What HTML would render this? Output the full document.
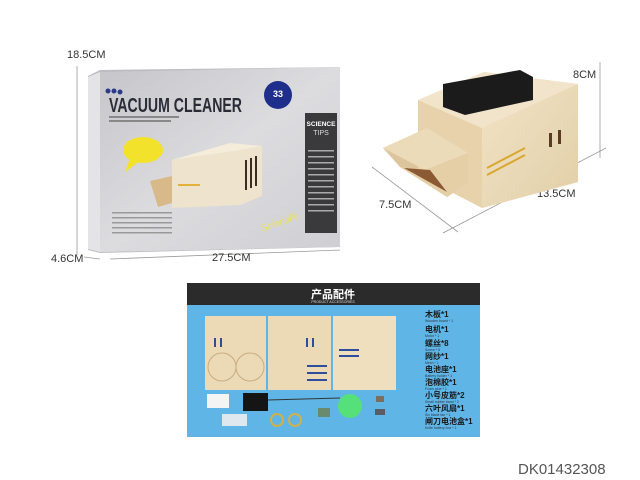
<!DOCTYPE html>
<html><head><meta charset="utf-8"><style>
html,body{margin:0;padding:0;background:#fff;}
svg{display:block;}
text{font-family:"Liberation Sans","Noto Sans CJK SC",sans-serif;}
</style></head><body>
<svg width="640" height="480" viewBox="0 0 640 480" xmlns="http://www.w3.org/2000/svg">
<defs>
<linearGradient id="bx" x1="0" y1="0" x2="1" y2="1"><stop offset="0" stop-color="#c6c6ca"/><stop offset="0.5" stop-color="#dcdcdf"/><stop offset="1" stop-color="#cfcfd3"/></linearGradient>
<linearGradient id="wd" x1="0" y1="0" x2="1" y2="1"><stop offset="0" stop-color="#f1e3c6"/><stop offset="1" stop-color="#e2cfa8"/></linearGradient>
</defs>
<rect width="640" height="480" fill="#fff"/>
<!-- dimension lines left -->
<g stroke="#999" stroke-width="0.8" fill="none">
<line x1="77" y1="66" x2="77" y2="255"/>
<line x1="84" y1="257" x2="100" y2="259"/>
<line x1="110" y1="259" x2="340" y2="250"/>
<line x1="372" y1="167" x2="458" y2="232"/>
<line x1="443" y1="233" x2="606" y2="148"/>
<line x1="600" y1="62" x2="600" y2="158"/>
</g>
<g font-size="11" fill="#333">
<text x="67" y="58">18.5CM</text>
<text x="51" y="262">4.6CM</text>
<text x="212" y="261">27.5CM</text>
<text x="379" y="208">7.5CM</text>
<text x="537" y="197">13.5CM</text>
<text x="573" y="78">8CM</text>
</g>
<!-- box -->
<polygon points="88,76 100,70 340,67 340,247 100,253 88,250" fill="#bdbdc1"/>
<polygon points="100,72 340,67 340,247 100,252" fill="url(#bx)"/>
<polygon points="88,77 100,72 100,252 88,249" fill="#e4e4e6"/>
<text x="109" y="112" font-size="20" font-weight="bold" fill="#2b2b38" textLength="133" lengthAdjust="spacingAndGlyphs">VACUUM CLEANER</text>
<circle cx="108" cy="91" r="2.5" fill="#2d3a8a"/><circle cx="114" cy="91" r="2.5" fill="#2d3a8a"/><circle cx="120" cy="92" r="2.5" fill="#2d3a8a"/>
<rect x="109" y="116" width="70" height="2" fill="#888"/><rect x="109" y="120" width="62" height="2" fill="#888"/>
<circle cx="278" cy="95" r="14" fill="#1f2e8a"/>
<text x="278" y="97" font-size="9" font-weight="bold" fill="#fff" text-anchor="middle">33</text>
<rect x="305" y="113" width="32" height="120" fill="#3a3a3c"/>
<text x="321" y="126" font-size="6.5" fill="#fff" text-anchor="middle" font-weight="bold">SCIENCE</text>
<text x="321" y="135" font-size="7" fill="#ddd" text-anchor="middle">TIPS</text>
<g fill="#aaa"><rect x="308" y="150" width="26" height="1.5"/><rect x="308" y="156" width="26" height="1.5"/><rect x="308" y="162" width="26" height="1.5"/><rect x="308" y="168" width="26" height="1.5"/><rect x="308" y="174" width="26" height="1.5"/><rect x="308" y="180" width="26" height="1.5"/><rect x="308" y="186" width="26" height="1.5"/><rect x="308" y="192" width="26" height="1.5"/><rect x="308" y="198" width="26" height="1.5"/><rect x="308" y="204" width="26" height="1.5"/><rect x="308" y="210" width="26" height="1.5"/></g>
<ellipse cx="143" cy="150" rx="20" ry="13" fill="#f3e22c"/>
<polygon points="130,158 125,172 140,161" fill="#f3e22c"/>
<!-- box product -->
<polygon points="172,160 240,150 262,146 262,196 240,205 172,208" fill="#eee3cd"/>
<polygon points="172,160 230,143 262,146 240,150" fill="#f5ecd9"/>
<polygon points="150,181 172,176 172,203 158,207" fill="#d8b98a"/>
<g fill="#3a2c20"><rect x="245" y="160" width="2" height="30"/><rect x="250" y="158" width="2" height="30"/><rect x="255" y="156" width="2" height="30"/></g>
<rect x="178" y="184" width="22" height="2" fill="#e3b23b"/>
<text x="262" y="232" font-size="10" fill="#e9e06a" font-style="italic" transform="rotate(-20 262 232)">Scientific</text>
<g fill="#999"><rect x="112" y="212" width="60" height="1.5"/><rect x="112" y="217" width="60" height="1.5"/><rect x="112" y="222" width="60" height="1.5"/><rect x="112" y="227" width="60" height="1.5"/><rect x="112" y="232" width="60" height="1.5"/></g>
<!-- right product -->
<polygon points="400,167 383,148 427,128 468,153 468,183 447,197" fill="#dcc59c"/>
<polygon points="418,100 484,72 578,84 578,182 482,208 482,128" fill="#e9d6b1"/>
<polygon points="418,100 482,128 482,208 418,175" fill="#e7d2ac"/>
<polygon points="418,100 484,72 578,84 482,128" fill="#f1e4ca"/>
<polygon points="482,128 578,84 578,182 482,208" fill="url(#wd)"/>
<polygon points="383,148 427,128 468,153 425,170" fill="#ecdbb8"/>
<polygon points="400,167 425,170 468,153 468,183 447,197" fill="#e4cfa6"/>
<polygon points="404,168 430,170 447,192" fill="#8b5a33"/>
<polygon points="443,84 520,70 533,77 533,100 465,115 443,107" fill="#1b1b1b"/>
<g fill="#5a3a22"><rect x="549" y="133" width="3" height="14"/><rect x="558" y="130" width="3" height="14"/></g>
<line x1="487" y1="168" x2="525" y2="148" stroke="#d9a730" stroke-width="2"/>
<line x1="487" y1="175" x2="525" y2="155" stroke="#d9a730" stroke-width="2"/>
<!-- panel -->
<rect x="187" y="283" width="293" height="22" fill="#2b2b2b"/>
<text x="333" y="298" font-size="11" fill="#fff" text-anchor="middle" font-weight="bold">产品配件</text>
<text x="333" y="303" font-size="3.5" fill="#ddd" text-anchor="middle">PRODUCT ACCESSORIES</text>
<rect x="187" y="305" width="293" height="132" fill="#5fb6e6"/>
<rect x="205" y="316" width="61" height="74" fill="#ecd9b6"/>
<rect x="268" y="316" width="63" height="74" fill="#ecd9b6"/>
<rect x="333" y="316" width="63" height="74" fill="#f0dfbe"/>
<circle cx="222" cy="367" r="14" fill="none" stroke="#c9ad80"/><circle cx="250" cy="367" r="14" fill="none" stroke="#c9ad80"/>
<g fill="#2e4d9a"><rect x="214" y="338" width="2" height="9"/><rect x="220" y="338" width="2" height="9"/><rect x="306" y="338" width="2" height="9"/><rect x="312" y="338" width="2" height="9"/><rect x="307" y="365" width="20" height="2"/><rect x="307" y="372" width="20" height="2"/><rect x="307" y="379" width="20" height="2"/><rect x="339" y="349" width="20" height="2"/><rect x="339" y="355" width="20" height="2"/></g>
<rect x="207" y="394" width="22" height="14" fill="#f4f4f4"/>
<rect x="243" y="393" width="25" height="18" fill="#151515"/>
<line x1="268" y1="400" x2="340" y2="398" stroke="#333"/>
<rect x="222" y="414" width="25" height="12" fill="#dfe8ee"/>
<circle cx="277" cy="420" r="6" fill="none" stroke="#d0b04a" stroke-width="2"/>
<circle cx="295" cy="420" r="6" fill="none" stroke="#d0b04a" stroke-width="2"/>
<rect x="318" y="408" width="12" height="9" fill="#6a8a6e"/>
<circle cx="350" cy="406" r="12" fill="#55e07a"/>
<rect x="376" y="396" width="8" height="6" fill="#7c6e5c"/><rect x="375" y="409" width="10" height="6" fill="#5b5b63"/>
<g font-size="8" fill="#1a1a1a" font-weight="bold">
<text x="425" y="317">木板*1</text>
<text x="425" y="332">电机*1</text>
<text x="425" y="346">螺丝*8</text>
<text x="425" y="359">网纱*1</text>
<text x="425" y="372">电池座*1</text>
<text x="425" y="385">泡棉胶*1</text>
<text x="425" y="398">小号皮筋*2</text>
<text x="425" y="411">六叶风扇*1</text>
<text x="425" y="424">闸刀电池盒*1</text>
</g>
<g font-size="3.5" fill="#334"><text x="425" y="322">Wooden board * 1</text><text x="425" y="337">Motor * 1</text><text x="425" y="351">Screw * 8</text><text x="425" y="364">Mesh * 1</text><text x="425" y="377">Battery holder * 1</text><text x="425" y="390">Foam glue * 1</text><text x="425" y="403">Small rubber band * 2</text><text x="425" y="416">Six blade fan * 1</text><text x="425" y="429">Knife battery box * 1</text></g>
<text x="518" y="474" font-size="15" fill="#555">DK01432308</text>
</svg>
</body></html>
